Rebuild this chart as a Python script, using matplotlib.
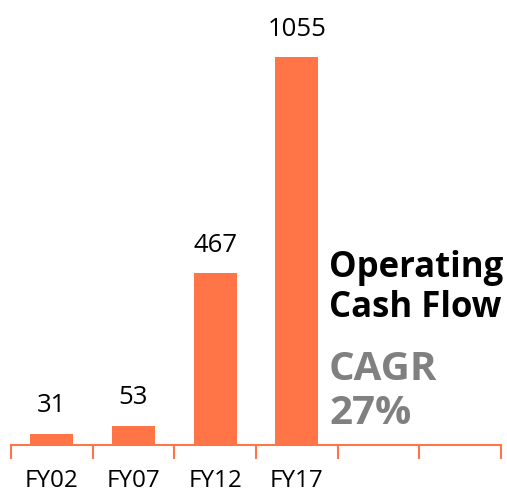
import matplotlib.pyplot as plt

categories = ['FY02', 'FY07', 'FY12', 'FY17', '', '']
values = [31, 53, 467, 1055, None, None]

orange = '#FF7548'
plt.rcParams['font.family'] = ['Open Sans', 'DejaVu Sans']

fig = plt.figure(figsize=(5.07, 4.96), dpi=100)
ax = fig.add_axes([11 / 507, 51 / 496, 490 / 507, 445 / 496])

xs = list(range(len(categories)))
bx = [x for x, v in zip(xs, values) if v is not None]
bv = [v for v in values if v is not None]
bars = ax.bar(bx, bv, width=0.53, color=orange)
for x, v in zip(bx, bv):
    ax.annotate(str(v), (x, v), xytext=(0, 11), textcoords='offset points',
                ha='center', va='bottom', fontsize=18.5)

ax.set_xlim(-0.5, 5.5)
ax.set_ylim(0, 1210)
ax.set_xticks([x - 0.5 for x in range(7)])
ax.set_xticklabels([])
ax.set_xticks(xs, minor=True)
ax.set_xticklabels(categories, minor=True, fontsize=17.5)
ax.tick_params(axis='x', which='major', length=10, width=1.5, color=orange)
ax.tick_params(axis='x', which='minor', length=0, pad=17)
ax.set_yticks([])
for s in ['top', 'right', 'left']:
    ax.spines[s].set_visible(False)
ax.spines['bottom'].set_color(orange)
ax.spines['bottom'].set_linewidth(1.5)

fig.text(329 / 507, 1 - 268 / 496, 'Operating', fontsize=25, fontweight='bold',
         color='black', va='center', ha='left')
fig.text(329 / 507, 1 - 308 / 496, 'Cash Flow', fontsize=25, fontweight='bold',
         color='black', va='center', ha='left')
fig.text(329 / 507, 1 - 370 / 496, 'CAGR', fontsize=29, fontweight='bold',
         color='#808080', va='center', ha='left')
fig.text(329 / 507, 1 - 414 / 496, '27%', fontsize=29, fontweight='bold',
         color='#808080', va='center', ha='left')

fig.savefig('out.png', dpi=100)
